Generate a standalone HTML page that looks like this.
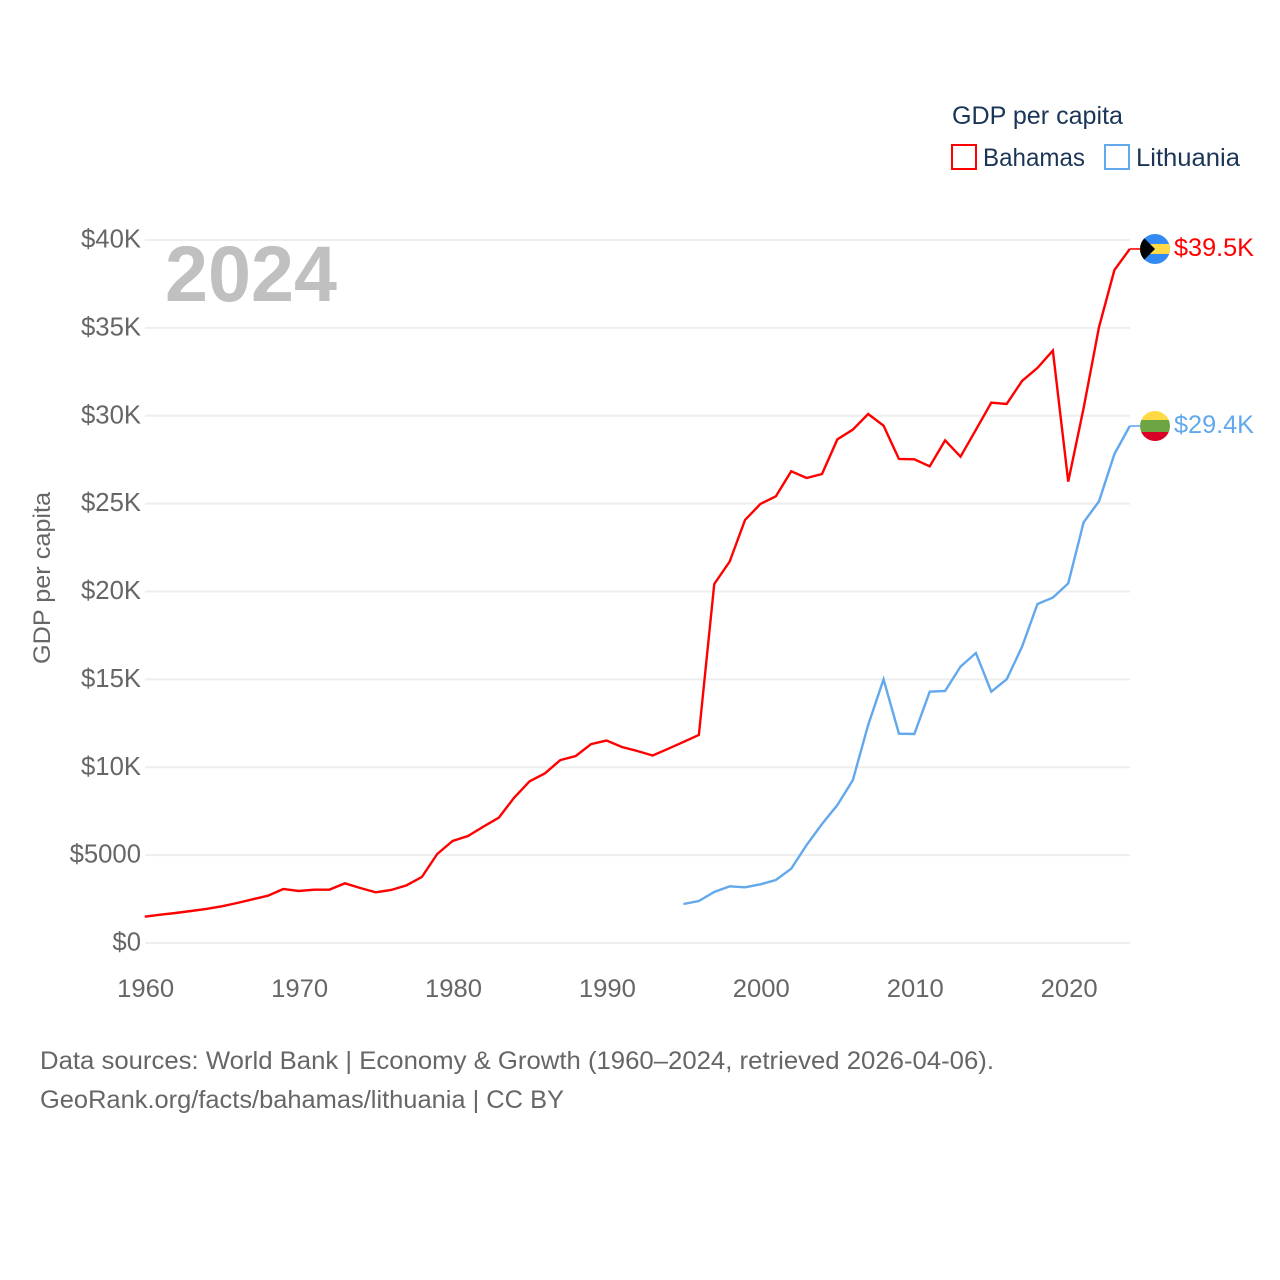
<!DOCTYPE html>
<html lang="en">
<head>
<meta charset="utf-8">
<title>GDP per capita: Bahamas and Lithuania</title>
<style>
html,body{margin:0;padding:0;background:#fff;width:1280px;height:1280px;overflow:hidden}
svg{display:block;font-family:"Liberation Sans",sans-serif}
</style>
</head>
<body>
<svg id="chart" width="1280" height="1280" viewBox="0 0 1280 1280" xmlns="http://www.w3.org/2000/svg">
  <defs>
    <clipPath id="flag-clip-a"><circle cx="1155" cy="0" r="15"/></clipPath>
  </defs>
  <g id="grid"></g>
  <g id="yticks"></g>
  <g id="xticks"></g>
  <text transform="translate(50,578) rotate(-90)" text-anchor="middle" font-size="24" fill="#666666" textLength="172" lengthAdjust="spacingAndGlyphs">GDP per capita</text>
  <text id="year-label" x="165" y="301" font-size="79" font-weight="700" fill="#c0c0c0" textLength="172" lengthAdjust="spacingAndGlyphs">2024</text>
  <g id="series"></g>
  <g id="ends"></g>
  <g>
    <text x="952" y="124" font-size="25" fill="#1a3557" textLength="171" lengthAdjust="spacingAndGlyphs">GDP per capita</text>
    <rect x="952" y="145" width="24" height="24" fill="none" stroke="#ff0000" stroke-width="2"/>
    <text x="983" y="166" font-size="25" fill="#1a3557" textLength="102" lengthAdjust="spacingAndGlyphs">Bahamas</text>
    <rect x="1105" y="145" width="24" height="24" fill="none" stroke="#62a8ec" stroke-width="2"/>
    <text x="1136" y="166" font-size="25" fill="#1a3557" textLength="104" lengthAdjust="spacingAndGlyphs">Lithuania</text>
  </g>
  <g>
    <text x="40" y="1069" font-size="25" fill="#666666" textLength="954" lengthAdjust="spacingAndGlyphs">Data sources: World Bank | Economy &amp; Growth (1960–2024, retrieved 2026-04-06).</text>
    <text x="40" y="1108" font-size="25" fill="#666666" textLength="524" lengthAdjust="spacingAndGlyphs">GeoRank.org/facts/bahamas/lithuania | CC BY</text>
  </g>
</svg>
<script>
const yTickValues = [0, 5000, 10000, 15000, 20000, 25000, 30000, 35000, 40000];
const yTickLabels = ["$0", "$5000", "$10K", "$15K", "$20K", "$25K", "$30K", "$35K", "$40K"];
const xTickValues = [1960, 1970, 1980, 1990, 2000, 2010, 2020];
const xTickLabels = ["1960", "1970", "1980", "1990", "2000", "2010", "2020"];
const bahamasStartYear = 1960;
const lithuaniaStartYear = 1995;
const bahamasValues = [1498, 1612, 1707, 1821, 1935, 2086, 2276, 2484, 2693, 3073, 2959, 3035, 3035, 3395, 3130, 2883, 3016, 3281, 3755, 5064, 5804, 6088, 6620, 7131, 8270, 9199, 9654, 10410, 10640, 11320, 11520, 11150, 10925, 10670, 11050, 11440, 11835, 20427, 21700, 24070, 24980, 25415, 26838, 26459, 26686, 28658, 29208, 30100, 29436, 27540, 27520, 27120, 28600, 27672, 29200, 30745, 30670, 31980, 32720, 33710, 26250, 30440, 35050, 38290, 39490];
const lithuaniaValues = [2219, 2390, 2902, 3225, 3168, 3339, 3585, 4230, 5576, 6771, 7852, 9257, 12404, 15002, 11910, 11892, 14300, 14339, 15724, 16501, 14300, 15002, 16862, 19289, 19650, 20465, 23936, 25133, 27824, 29417];
const bahamasEndLabel = "$39.5K";
const lithuaniaEndLabel = "$29.4K";

const NS = "http://www.w3.org/2000/svg";
function xScale(year) { return 144.8 + (year - 1960) * (1129.8 - 144.8) / 64; }
function yScale(v) { return 943 - v * 703 / 40000; }
function mk(tag, attrs, parent) {
  const el = document.createElementNS(NS, tag);
  for (const k in attrs) el.setAttribute(k, attrs[k]);
  parent.appendChild(el);
  return el;
}
const gridG = document.getElementById("grid");
const yG = document.getElementById("yticks");
const xG = document.getElementById("xticks");
const seriesG = document.getElementById("series");
const endsG = document.getElementById("ends");

yTickValues.forEach(function (v, i) {
  const line = mk("line", { x1: 145, x2: 1130, y1: yScale(v), y2: yScale(v), stroke: "#eeeeee", "stroke-width": 2 }, gridG);
  
  
  const t = mk("text", { x: 141, y: yScale(v) + 7.5, "text-anchor": "end", "font-size": 25.7, fill: "#666666" }, yG);
  
  
  t.textContent = yTickLabels[i];
});

xTickValues.forEach(function (y, i) {
  const t = mk("text", { x: xScale(y) + 0.9, y: 997, "text-anchor": "middle", "font-size": 25, fill: "#666666", textLength: 57, lengthAdjust: "spacingAndGlyphs" }, xG);
  
  
  t.textContent = xTickLabels[i];
});

function linePoints(startYear, values) {
  return values.map(function (v, i) {
    return xScale(startYear + i).toFixed(2) + "," + yScale(v).toFixed(2);
  }).join(" ");
}

const bahamasLine = mk("polyline", { points: linePoints(bahamasStartYear, bahamasValues), fill: "none", stroke: "#ff0000", "stroke-width": 2.4, "stroke-linejoin": "miter" }, seriesG);


const lithuaniaLine = mk("polyline", { points: linePoints(lithuaniaStartYear, lithuaniaValues), fill: "none", stroke: "#62a8ec", "stroke-width": 2.4, "stroke-linejoin": "miter" }, seriesG);



const bahamasEndY = yScale(bahamasValues[bahamasValues.length - 1]);
const lithuaniaEndY = yScale(lithuaniaValues[lithuaniaValues.length - 1]);
const endX = xScale(2024);

const bahamasConnector = mk("line", { x1: endX, x2: 1140, y1: bahamasEndY, y2: bahamasEndY, stroke: "#ff0000", "stroke-width": 2, "stroke-opacity": 0.8 }, endsG);


const lithuaniaConnector = mk("line", { x1: endX, x2: 1140, y1: lithuaniaEndY, y2: lithuaniaEndY, stroke: "#62a8ec", "stroke-width": 2, "stroke-opacity": 0.8 }, endsG);



// Bahamas flag
const flagB = mk("g", { transform: "translate(0," + bahamasEndY + ")", "clip-path": "url(#flag-clip-a)" }, endsG);


mk("rect", { x: 1140, y: -15, width: 30, height: 30, fill: "#338af3" }, flagB);
mk("rect", { x: 1140, y: -5, width: 30, height: 10, fill: "#ffda44" }, flagB);
mk("polygon", { points: "1140,-15 1155,0 1140,15", fill: "#000000" }, flagB);

// Lithuania flag
const flagL = mk("g", { transform: "translate(0," + lithuaniaEndY + ")", "clip-path": "url(#flag-clip-a)" }, endsG);


mk("rect", { x: 1140, y: -15, width: 30, height: 10, fill: "#ffda44" }, flagL);
mk("rect", { x: 1140, y: -6, width: 30, height: 12, fill: "#6da544" }, flagL);
mk("rect", { x: 1140, y: 6, width: 30, height: 10, fill: "#d80027" }, flagL);

const bahamasLabel = mk("text", { x: 1174, y: bahamasEndY + 7, "font-size": 25, fill: "#ff0000", textLength: 80, lengthAdjust: "spacingAndGlyphs" }, endsG);


bahamasLabel.textContent = bahamasEndLabel;
const lithuaniaLabel = mk("text", { x: 1174, y: lithuaniaEndY + 7, "font-size": 25, fill: "#62a8ec", textLength: 80, lengthAdjust: "spacingAndGlyphs" }, endsG);


lithuaniaLabel.textContent = lithuaniaEndLabel;
</script>
</body>
</html>
